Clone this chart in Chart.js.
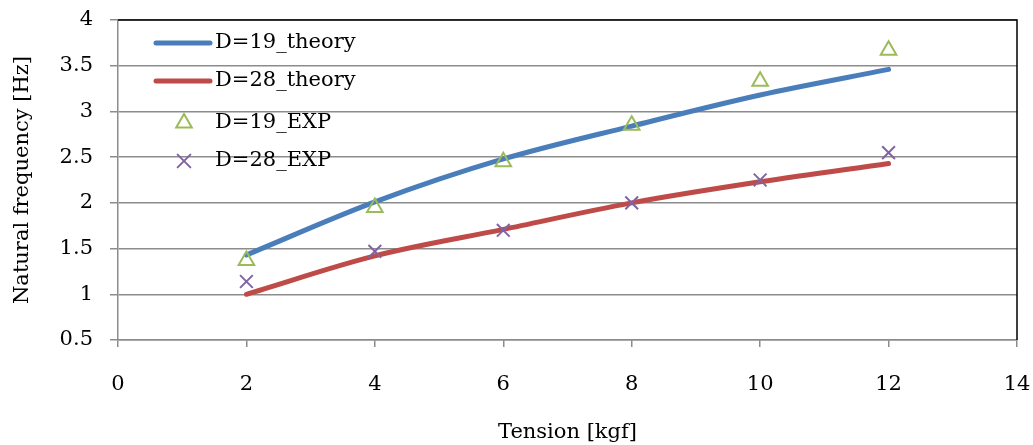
<!DOCTYPE html>
<html>
<head>
<meta charset="utf-8">
<script src="https://cdn.jsdelivr.net/npm/chart.js@4/dist/chart.umd.min.js"></script>
<style>
  body { margin: 0; background: #fff; }
  #wrap { width: 1033px; height: 445px; }
</style>
</head>
<body>
<div id="wrap"><canvas id="freqChart" width="1033" height="445"></canvas></div>
<script>
// Tension values [kgf] and natural frequencies [Hz]
const tension = [2, 4, 6, 8, 10, 12];
const theoryD19 = [1.43, 2.01, 2.48, 2.84, 3.18, 3.46];
const theoryD28 = [1.00, 1.42, 1.71, 2.00, 2.23, 2.43];
const expD19 = [1.37, 1.95, 2.45, 2.85, 3.33, 3.67];
const expD28 = [1.14, 1.47, 1.70, 2.00, 2.25, 2.55];

const xTicks = [0, 2, 4, 6, 8, 10, 12, 14];
const yTicks = [0.5, 1, 1.5, 2, 2.5, 3, 3.5, 4];

const FONT = "'DejaVu Serif', serif";
const GRID = "#8c8c8c";

const toPoints = (ys) => tension.map((x, i) => ({ x, y: ys[i] }));

// frame on top/right + legend inside the plot area
const frameLegend = {
  id: "frameLegend",
  afterDraw(chart) {
    const { ctx, chartArea: a } = chart;
    ctx.save();
    ctx.strokeStyle = "#000";
    ctx.lineWidth = 1.5;
    ctx.beginPath();
    ctx.moveTo(a.left, a.top);
    ctx.lineTo(a.right, a.top);
    ctx.lineTo(a.right, a.bottom);
    ctx.stroke();

    const rows = [23, 61, 103, 141];
    ctx.font = "21px " + FONT;
    ctx.textBaseline = "middle";
    ctx.fillStyle = "#000";
    chart.data.datasets.forEach((ds, i) => {
      const y = a.top + rows[i];
      const x0 = a.left + 38, x1 = a.left + 92, cx = a.left + 66;
      ctx.strokeStyle = ds.borderColor;
      if (ds.showLine) {
        ctx.lineWidth = ds.borderWidth;
        ctx.lineCap = "round";
        ctx.beginPath();
        ctx.moveTo(x0, y);
        ctx.lineTo(x1, y);
        ctx.stroke();
      } else if (ds.pointStyle === "triangle") {
        const r = ds.pointRadius;
        ctx.lineWidth = ds.pointBorderWidth;
        ctx.beginPath();
        ctx.moveTo(cx, y - r);
        ctx.lineTo(cx + r * 0.866, y + r / 2);
        ctx.lineTo(cx - r * 0.866, y + r / 2);
        ctx.closePath();
        ctx.stroke();
      } else {
        const d = ds.pointRadius * 0.707;
        ctx.lineWidth = ds.pointBorderWidth;
        ctx.beginPath();
        ctx.moveTo(cx - d, y - d); ctx.lineTo(cx + d, y + d);
        ctx.moveTo(cx + d, y - d); ctx.lineTo(cx - d, y + d);
        ctx.stroke();
      }
      ctx.fillText(ds.label, a.left + 97, y);
    });
    ctx.restore();
  }
};

new Chart(document.getElementById("freqChart").getContext("2d"), {
  type: "line",
  data: {
    datasets: [
      {
        label: "D=19_theory",
        data: toPoints(theoryD19),
        borderColor: "#4a7ebb",
        borderWidth: 5,
        showLine: true,
        pointRadius: 0,
        cubicInterpolationMode: "monotone",
        borderCapStyle: "round",
        order: 1
      },
      {
        label: "D=28_theory",
        data: toPoints(theoryD28),
        borderColor: "#be4b48",
        borderWidth: 5,
        showLine: true,
        pointRadius: 0,
        cubicInterpolationMode: "monotone",
        borderCapStyle: "round",
        order: 1
      },
      {
        label: "D=19_EXP",
        data: toPoints(expD19),
        borderColor: "#9bbb59",
        showLine: false,
        pointStyle: "triangle",
        pointRadius: 9,
        pointBorderWidth: 2,
        pointBorderColor: "#9bbb59",
        pointBackgroundColor: "rgba(0,0,0,0)",
        order: 0
      },
      {
        label: "D=28_EXP",
        data: toPoints(expD28),
        borderColor: "#8064a2",
        showLine: false,
        pointStyle: "crossRot",
        pointRadius: 9,
        pointBorderWidth: 2,
        pointBorderColor: "#8064a2",
        order: 0
      }
    ]
  },
  options: {
    responsive: false,
    animation: false,
    layout: { padding: { top: 20, right: 16, left: 0, bottom: 0 } },
    plugins: {
      legend: { display: false },
      tooltip: { enabled: false }
    },
    scales: {
      x: {
        type: "linear",
        min: 0,
        max: 14,
        afterBuildTicks: (s) => { s.ticks = xTicks.map((v) => ({ value: v })); },
        afterFit: (s) => { s.height = 105; s.paddingLeft = 0; s.paddingRight = 0; },
        grid: { drawOnChartArea: false, color: GRID, lineWidth: 1.5, tickLength: 7 },
        border: { color: GRID, width: 1.5 },
        ticks: { color: "#000", padding: 25, font: { family: FONT, size: 21 } },
        title: {
          display: true,
          text: "Tension [kgf]",
          color: "#000",
          font: { family: FONT, size: 21 },
          padding: { top: 0, bottom: 0 }
        }
      },
      y: {
        min: 0.5,
        max: 4,
        afterBuildTicks: (s) => { s.ticks = yTicks.map((v) => ({ value: v })); },
        afterFit: (s) => { s.width = 118; s.paddingTop = 0; s.paddingBottom = 0; },
        grid: { color: GRID, lineWidth: 1.5, tickLength: 8 },
        border: { color: GRID, width: 1.5 },
        ticks: {
          color: "#000",
          padding: 17,
          font: { family: FONT, size: 21 },
          callback: (v) => String(v)
        },
        title: {
          display: true,
          text: "Natural frequency [Hz]",
          color: "#000",
          font: { family: FONT, size: 21 },
          padding: { top: 10, bottom: 0 }
        }
      }
    }
  },
  plugins: [frameLegend]
});
</script>
</body>
</html>
